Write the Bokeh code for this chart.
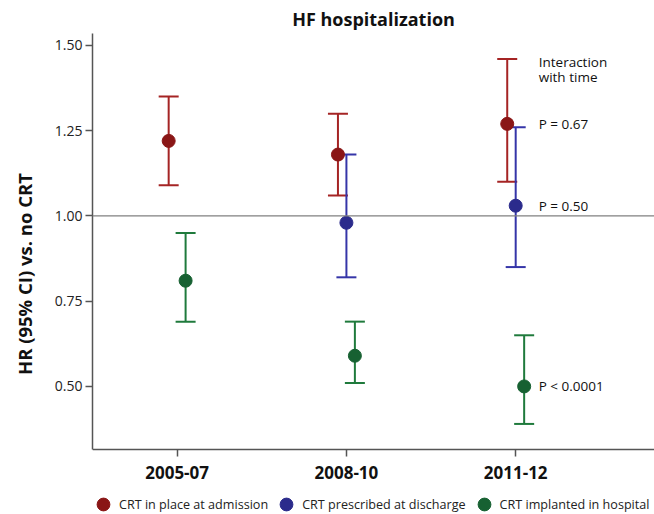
from bokeh.plotting import figure
from bokeh.models import (ColumnDataSource, Range1d, FixedTicker, NumeralTickFormatter,
                          Whisker, TeeHead, Span, Legend, LegendItem)
from bokeh.core.properties import value
from bokeh.embed import file_html
from bokeh.resources import INLINE

# ---- data ----
periods = ["2005-07", "2008-10", "2011-12"]
series_names = ["CRT in place at admission", "CRT prescribed at discharge", "CRT implanted in hospital"]

admit_x = [1, 2, 3]
admit_hr = [1.22, 1.18, 1.27]
admit_lo = [1.09, 1.06, 1.10]
admit_hi = [1.35, 1.30, 1.46]

disch_x = [2, 3]
disch_hr = [0.98, 1.03]
disch_lo = [0.82, 0.85]
disch_hi = [1.18, 1.26]

impl_x = [1, 2, 3]
impl_hr = [0.81, 0.59, 0.50]
impl_lo = [0.69, 0.51, 0.39]
impl_hi = [0.95, 0.69, 0.65]

p_values = ["P = 0.67", "P = 0.50", "P < 0.0001"]
interaction_label = "Interaction\nwith time"

y_ticks = [0.50, 0.75, 1.00, 1.25, 1.50]
y_axis_min = 0.315
y_axis_max = 1.535

FONT = "Open Sans"

# frame runs down to the bottom of the canvas so the legend can sit below the x axis
p = figure(frame_width=562, frame_height=481, x_range=Range1d(0.5, 3.82),
           y_range=Range1d(0.1244, y_axis_max),
           output_backend="svg", toolbar_location=None,
           min_border_left=92, min_border_right=0, min_border_top=33, min_border_bottom=0)
p.grid.visible = False
p.outline_line_color = None
p.background_fill_color = "white"
p.border_fill_color = "white"

p.title.text = "HF hospitalization"
p.title.align = "center"
p.title.text_font = FONT
p.title.text_font_size = "18px"
p.title.text_font_style = "bold"
p.title.text_color = "#111111"
p.title.standoff = 5

# axes
p.xaxis.fixed_location = y_axis_min
p.xaxis.axis_label = None
p.xaxis.ticker = FixedTicker(ticks=[1, 2, 3])
p.xaxis.major_label_overrides = {1: periods[0], 2: periods[1], 3: periods[2]}
p.xaxis.major_label_text_font = FONT
p.xaxis.major_label_text_font_size = "17px"
p.xaxis.major_label_text_font_style = "bold"
p.xaxis.major_label_text_color = "#111111"
p.xaxis.major_label_standoff = 9
p.xaxis.minor_tick_line_color = None
p.xaxis.major_tick_out = 7
p.xaxis.major_tick_in = 0

p.yaxis.bounds = (y_axis_min, y_axis_max)
p.yaxis.ticker = FixedTicker(ticks=y_ticks)
p.yaxis.formatter = NumeralTickFormatter(format="0.00")
p.yaxis.major_label_text_font = FONT
p.yaxis.major_label_text_font_size = "14px"
p.yaxis.major_label_text_color = "#222222"
p.yaxis.major_label_standoff = 3
p.yaxis.minor_tick_line_color = None
p.yaxis.major_tick_out = 7
p.yaxis.major_tick_in = 0
p.yaxis.axis_label = "HR (95% CI) vs. no CRT"
p.yaxis.axis_label_text_font = FONT
p.yaxis.axis_label_text_font_size = "18.5px"
p.yaxis.axis_label_text_font_style = "bold"
p.yaxis.axis_label_text_color = "#111111"
p.yaxis.axis_label_standoff = 15

for ax in (p.xaxis, p.yaxis):
    ax.axis_line_color = "#555555"
    ax.axis_line_width = 1.5
    ax.major_tick_line_color = "#555555"
    ax.major_tick_line_width = 1.5

p.add_layout(Span(location=1.0, dimension="width", line_color="#808080", line_width=1.3))

series = [
    (admit_x, admit_hr, admit_lo, admit_hi, -0.05, "#a52424", "#8a1616"),
    (disch_x, disch_hr, disch_lo, disch_hi, 0.0, "#3535a8", "#2b2b8c"),
    (impl_x, impl_hr, impl_lo, impl_hi, 0.05, "#1f7a3c", "#176132"),
]

items = []
for (xs, hr, lo, hi, off, lc, mc), name in zip(series, series_names):
    src = ColumnDataSource(dict(x=[x + off for x in xs], hr=hr, lo=lo, hi=hi))
    w = Whisker(source=src, base="x", lower="lo", upper="hi", dimension="height",
                line_color=lc, line_width=2,
                upper_head=TeeHead(size=20, line_color=lc, line_width=2),
                lower_head=TeeHead(size=20, line_color=lc, line_width=2))
    p.add_layout(w)
    r = p.scatter("x", "hr", source=src, size=13, fill_color=mc, line_color=mc, marker="circle")
    items.append(LegendItem(label=name, renderers=[r]))

# p-value annotations next to the last period of each series
last_x = [admit_x[-1], disch_x[-1], impl_x[-1]]
last_y = [admit_hr[-1], disch_hr[-1], impl_hr[-1]]
tsrc = ColumnDataSource(dict(x=last_x, y=last_y, t=p_values))
p.text("x", "y", text="t", source=tsrc, x_offset=23, text_baseline="middle", text_align="left",
       text_font=value(FONT), text_font_size="13.5px", text_color="#111111")
p.text(x=[3], y=[1.429], text=[interaction_label], x_offset=23, text_baseline="middle",
       text_align="left", text_font=value(FONT), text_font_size="13.5px", text_color="#111111",
       text_line_height=0.8)

legend = Legend(items=items, orientation="horizontal", location=(-5, -6),
                border_line_color=None, background_fill_alpha=0,
                label_text_font=FONT, label_text_font_size="12.6px", label_text_color="#222222",
                glyph_width=32, glyph_height=32, spacing=2, label_standoff=0,
                padding=0, margin=0)
p.add_layout(legend)

open("out.html", "w").write(file_html(p, INLINE))
